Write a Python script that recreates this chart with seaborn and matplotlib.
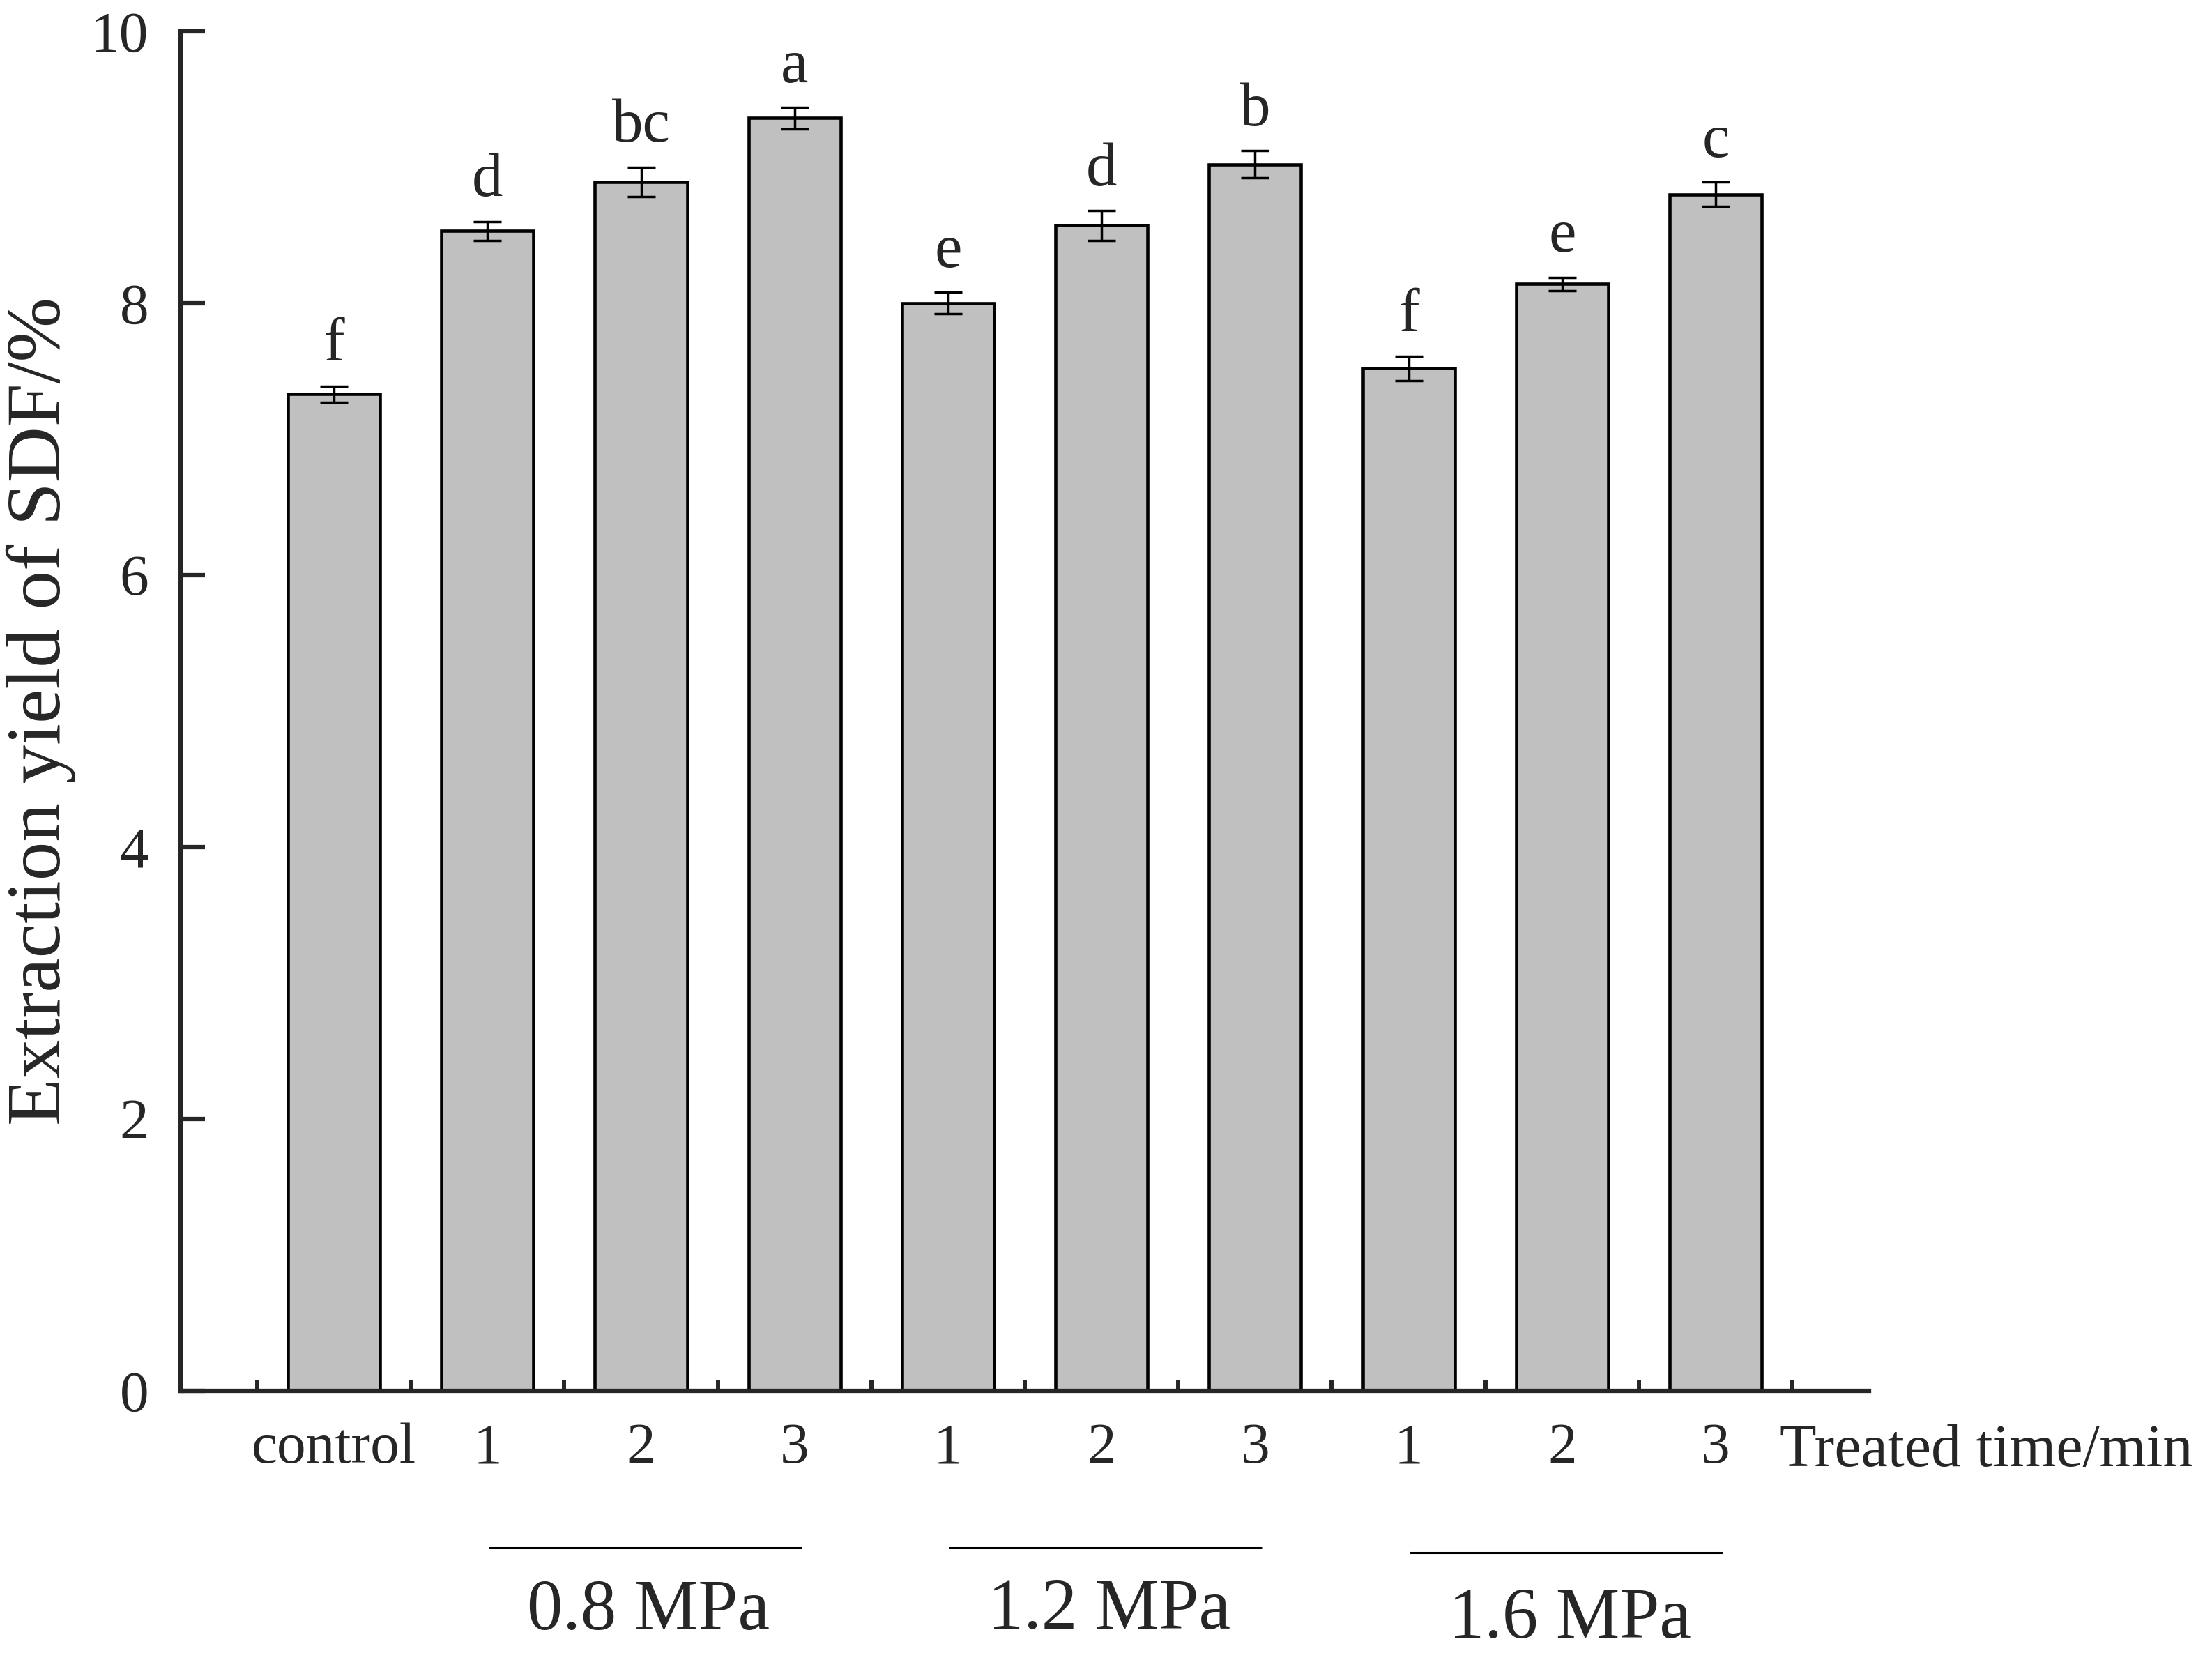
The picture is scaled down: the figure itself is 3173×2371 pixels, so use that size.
import matplotlib
matplotlib.use("Agg")
import matplotlib.pyplot as plt
import seaborn as sns
import numpy as np
import pandas as pd

# data
conditions = ["control", "0.8-1", "0.8-2", "0.8-3", "1.2-1", "1.2-2", "1.2-3", "1.6-1", "1.6-2", "1.6-3"]
tick_labels = ["control", "1", "2", "3", "1", "2", "3", "1", "2", "3"]
yield_sdf = [7.33, 8.53, 8.89, 9.36, 8.00, 8.57, 9.02, 7.52, 8.14, 8.80]
yield_err = [0.06, 0.07, 0.11, 0.08, 0.08, 0.11, 0.10, 0.09, 0.05, 0.09]
letters = ["f", "d", "bc", "a", "e", "d", "b", "f", "e", "c"]
groups = ["0.8 MPa", "1.2 MPa", "1.6 MPa"]
group_members = [[1, 2, 3], [4, 5, 6], [7, 8, 9]]

df = pd.DataFrame({"cond": conditions, "yield": yield_sdf, "err": yield_err})
df["idx"] = np.arange(len(df))

sns.set_style("ticks")
plt.rcParams["font.family"] = ["Liberation Serif", "DejaVu Serif"]

fig = plt.figure(figsize=(31.73, 23.71), dpi=100)
ax = fig.add_axes([0.0816, 0.1587, 0.7634, 0.8225])

sns.barplot(data=df, x="idx", y="yield", color="#c0c0c0", saturation=1,
            edgecolor="black", linewidth=3.3, width=0.6, errorbar=None, ax=ax)
ax.errorbar(df["idx"], df["yield"], yerr=df["err"], fmt="none", ecolor="black",
            elinewidth=2.5, capsize=14.5, capthick=2.5, zorder=5)

# significance letters
for i, (v, e, l) in enumerate(zip(yield_sdf, yield_err, letters)):
    ax.annotate(l, xy=(i, v + e), xytext=(0, 26), textcoords="offset points",
                ha="center", va="baseline", fontsize=64)

ax.set_xlim(-1, 10)
ax.set_ylim(0, 10)
ax.set_yticks([0, 2, 4, 6, 8, 10])
ax.set_xticks(df["idx"])
ax.set_xticklabels(tick_labels)
ax.set_xticks(np.arange(-0.5, 10, 1), minor=True)
ax.tick_params(axis="x", which="major", length=0, pad=33, labelsize=60)
ax.tick_params(axis="x", which="minor", direction="in", length=11, width=4.3)
ax.tick_params(axis="y", which="major", direction="in", length=25, width=4.5,
               pad=33, labelsize=60)

for s in ["top", "right"]:
    ax.spines[s].set_visible(False)
for s in ["left", "bottom"]:
    ax.spines[s].set_linewidth(4.5)

ax.set_xlabel("")
ax.set_ylabel("Extraction yield of SDF/%", fontsize=80)
ax.yaxis.set_label_coords(-0.062, 0.5)

trans = ax.get_xaxis_transform()
ax.text(9.42, -0.0246, "Treated time/min", transform=trans, ha="left", va="top",
        fontsize=62, clip_on=False)

# pressure groups under the axis
line_y = [-0.1154, -0.1154, -0.119]
label_y = [-0.1625, -0.162, -0.169]
for g, members, ly, ty in zip(groups, group_members, line_y, label_y):
    x0, x1 = members[0], members[-1]
    ax.plot([x0 + 0.01, x1 + 0.04], [ly, ly], transform=trans, color="black",
            linewidth=2.2, clip_on=False)
    ax.text((x0 + x1) / 2 + 0.05, ty, g, transform=trans, ha="center", va="center",
            fontsize=74, clip_on=False)

fig.savefig("out.png", dpi=100)
